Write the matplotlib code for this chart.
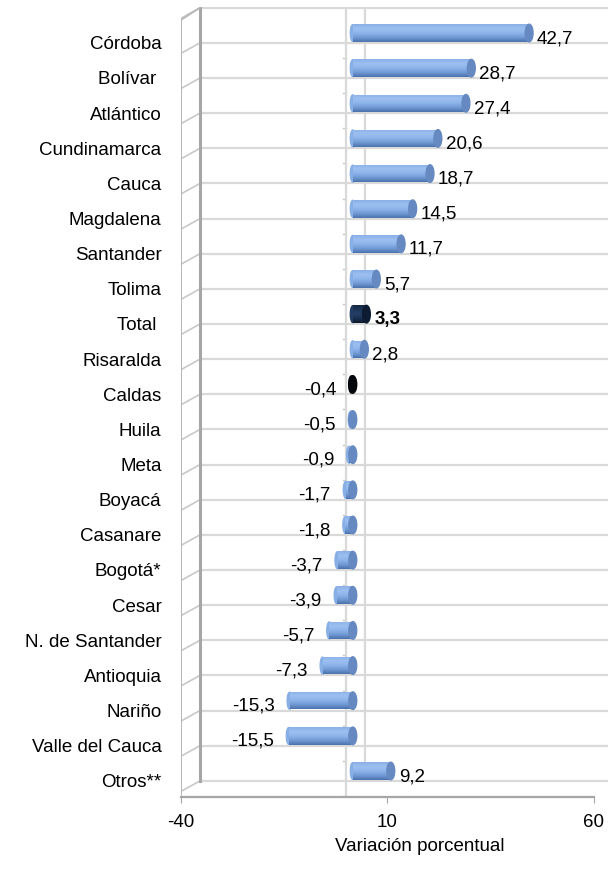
import numpy as np
import matplotlib.pyplot as plt
from matplotlib.colors import LinearSegmentedColormap
from matplotlib.patches import Ellipse

plt.rcParams['font.family'] = ['Liberation Sans', 'DejaVu Sans']

# ── data ──────────────────────────────────────────────────────────────────────
regions = ['Córdoba', 'Bolívar ', 'Atlántico', 'Cundinamarca', 'Cauca',
           'Magdalena', 'Santander', 'Tolima', 'Total ', 'Risaralda', 'Caldas',
           'Huila', 'Meta', 'Boyacá', 'Casanare', 'Bogotá*', 'Cesar',
           'N. de Santander', 'Antioquia', 'Nariño', 'Valle del Cauca', 'Otros**']
variation = [42.7, 28.7, 27.4, 20.6, 18.7, 14.5, 11.7, 5.7, 3.3, 2.8, -0.4,
             -0.5, -0.9, -1.7, -1.8, -3.7, -3.9, -5.7, -7.3, -15.3, -15.5, 9.2]
xticks = [-40, 10, 60]

# ── style ─────────────────────────────────────────────────────────────────────
BLUE = LinearSegmentedColormap.from_list(
    'blue', ['#4a72ad', '#7199d3', '#8db4ea', '#9dc0f0', '#8ab0e6'])
NAVY = LinearSegmentedColormap.from_list(
    'navy', ['#0c182b', '#1a2f50', '#253f66', '#1e3559', '#15263f'])
BLACK = LinearSegmentedColormap.from_list(
    'black', ['#03060a', '#121a24', '#0a0f16'])
CMAPS = {'Total ': NAVY, 'Caldas': BLACK}
CAPS = {'Total ': '#0e1c33', 'Caldas': '#04070b'}
CAP_BLUE = '#6589c0'
DEPTH_X = 1.6        # 3D depth shift of bars (data units)
DEPTH_Y = -0.28      # 3D depth shift of bars (category units)
BACK_X = 4.6         # back wall shift (data units)
GRID = '#d9d9d9'
FS = 13.5

fig = plt.figure(figsize=(6.08, 8.69), dpi=100)
W, H = 608, 869
ax = fig.add_axes([181 / W, (H - 797) / H, (608 - 181) / W, (797 - 7) / H])

n = len(regions)
y = np.arange(n)

# back-wall gridlines
for g in np.arange(-1, n):
    ax.plot([-40 + BACK_X, 63.4], [g, g], color=GRID, lw=1.6, zorder=0,
            solid_capstyle='butt')
    ax.plot([-40, -40 + BACK_X], [g + 0.3, g], color='#c8c8c8', lw=1.2, zorder=0)
    if g >= 0:
        ax.plot([-0.8, 0], [g + 0.43, g + 0.43], color='#c8c8c8', lw=1.0, zorder=1)
# left wall
ax.plot([-40 + BACK_X] * 2, [-1, 21], color='#a6a6a6', lw=2.2, zorder=1)
ax.plot([-40, -40], [-0.65, 21.46], color='#b5b5b5', lw=1.4, zorder=1)
ax.plot([-40, -40 + BACK_X], [-0.65, -1], color='#b5b5b5', lw=1.2, zorder=1)
# zero lines (back wall and front)
ax.plot([BACK_X, BACK_X], [-1, 20.5], color=GRID, lw=1.6, zorder=0)
ax.plot([0, 0], [-1, 21.46], color=GRID, lw=1.6, zorder=1)

bars = ax.barh(y + DEPTH_Y, variation, left=DEPTH_X, height=0.5,
               color='none', linewidth=0, zorder=3)
grad = np.linspace(0, 1, 64).reshape(-1, 1)
for bar, r in zip(bars, regions):
    x0, y0 = bar.get_x(), bar.get_y()
    w, h = bar.get_width(), bar.get_height()
    xl, xr = min(x0, x0 + w), max(x0, x0 + w)
    cmap = CMAPS.get(r, BLUE)
    # rounded left end of the cylinder
    ax.add_patch(Ellipse((xl, y0 + h / 2), 1.2, h * 0.96, color=cmap(0.45),
                         zorder=3))
    im = ax.imshow(grad, cmap=cmap, aspect='auto',
                   extent=[xl, xr, y0 + h, y0], zorder=3, origin='lower')
    im.set_clip_path(bar)
    # end cap
    ax.add_patch(Ellipse((xr, y0 + h / 2), 1.9, h, color=CAPS.get(r, CAP_BLUE),
                         zorder=4))

ax.set_xlim(-40, 63.4)
ax.set_ylim(21.46, -1.02)

for yi, v, r in zip(y, variation, regions):
    txt = f'{v:.1f}'.replace('.', ',')
    bold = 'bold' if r == 'Total ' else 'normal'
    if v >= 0:
        ax.text(v + DEPTH_X + 1.9, yi - 0.12, txt, ha='left', va='center',
                fontsize=FS, fontweight=bold, zorder=5)
    else:
        ax.text(v + DEPTH_X - 3.6, yi - 0.12, txt, ha='right', va='center',
                fontsize=FS, fontweight=bold, zorder=5)

# axes
for s in ['top', 'right', 'left']:
    ax.spines[s].set_visible(False)
ax.spines['bottom'].set_bounds(-40, 60)
ax.spines['bottom'].set_color('#a6a6a6')
ax.spines['bottom'].set_linewidth(1.6)
ax.set_yticks(y)
ax.set_yticklabels(regions, fontsize=FS)
ax.tick_params(axis='y', length=0, pad=14)
ax.set_xticks(xticks)
ax.set_xticklabels([str(t) for t in xticks], fontsize=FS)
ax.tick_params(axis='x', length=4, color='#a6a6a6', pad=8)
ax.set_xlabel('Variación porcentual', fontsize=FS)
ax.xaxis.set_label_coords(0.56, -0.052)

fig.savefig('out.png', dpi=100)
